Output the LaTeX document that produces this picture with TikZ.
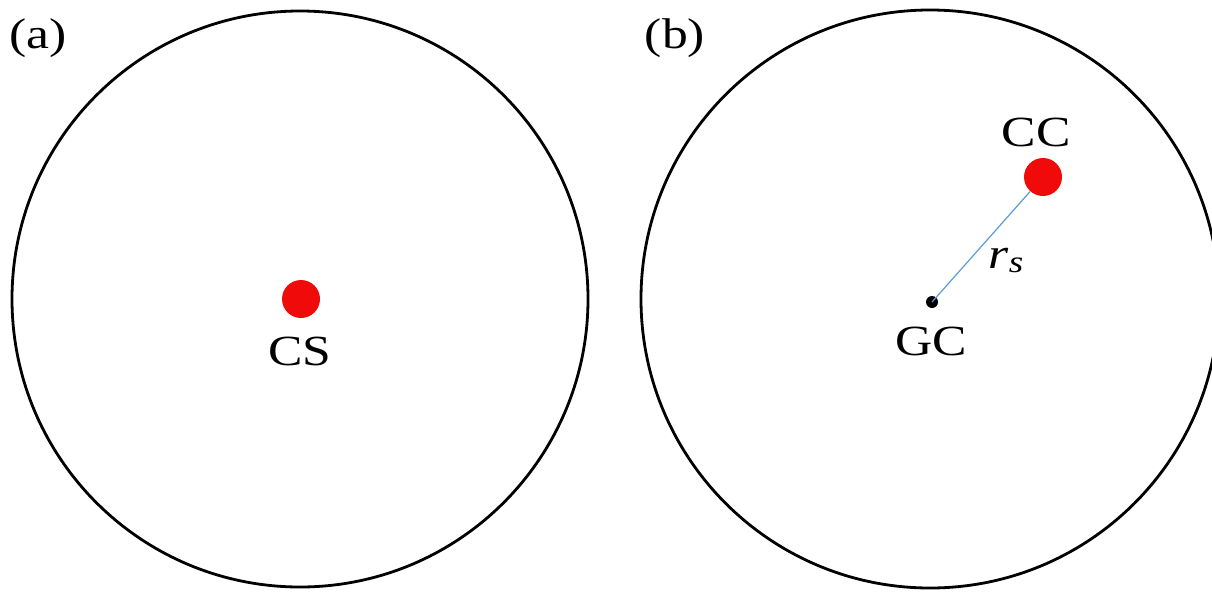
\documentclass[tikz,border=0pt]{standalone}
\usepackage{fontspec}
\setmainfont{Liberation Serif}
\newfontfamily\figserif[FakeStretch=1.2]{Liberation Serif}
\definecolor{dotred}{RGB}{240,10,10}
\definecolor{linkblue}{RGB}{91,155,213}
\begin{document}
\begin{tikzpicture}[x=1pt,y=-1pt,
  ring/.style={draw=black,line width=2.8pt},
  bigdot/.style={circle,fill=dotred,inner sep=0pt,minimum size=38pt},
  smalldot/.style={circle,fill=black,inner sep=0pt,minimum size=12pt},
  lbl/.style={anchor=base,inner sep=0pt,font=\figserif\fontsize{43}{43}\selectfont},
  link/.style={draw=linkblue,line width=1.2pt}]
  \useasboundingbox (0,0) rectangle (1212,592);
  \clip (0,0) rectangle (1212,592);
  % panel (a)
  \draw[ring] (300,299) circle (288);
  \node[lbl] (tagA) at (38,48) {(a)};
  \node[bigdot] (cs) at (301,299) {};
  \node[lbl] (csl) at (300,365) {CS};
  % panel (b)
  \draw[ring] (930,299) circle (289);
  \node[lbl] (tagB) at (675,48) {(b)};
  \node[smalldot] (gc) at (932,302) {};
  \node[bigdot] (cc) at (1043,177) {};
  \draw[link] (gc.center) -- (cc);
  \node[lbl] (gcl) at (931,355) {GC};
  \node[lbl] (ccl) at (1036,146) {CC};
  \node[lbl] (rs) at (1006,268) {\itshape r\raisebox{-0.22ex}{\fontsize{31}{31}\selectfont s}};
\end{tikzpicture}
\end{document}
